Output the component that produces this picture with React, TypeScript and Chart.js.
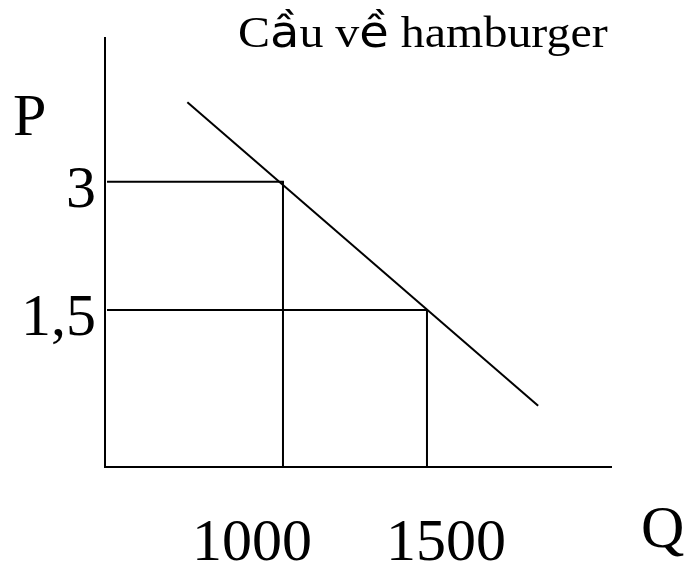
import React, { useEffect, useRef } from "react";
import { Chart, registerables } from "chart.js";

Chart.register(...registerables);

// ---- data ----
const titleText = "Cầu về hamburger";
const priceAxisName = "P";
const quantityAxisName = "Q";
const quantities = [1000, 1500];
const quantityLabels = ["1000", "1500"];
const prices = [3, 1.5];
const priceLabels = ["3", "1,5"];
const demandQ = [668, 1886];
const demandP = [3.93, 0.38];

// ---- scale ranges ----
const Q_MIN = 382;
const Q_MAX = 2139;
const P_MIN = -0.335;
const P_MAX = 4.68;

const SERIF = "'Liberation Serif', 'Times New Roman', serif";
const SANS = "'DejaVu Sans', sans-serif";

const textPlugin = {
  id: "econText",
  afterDraw(chart: any) {
    const ctx = chart.ctx;
    const xs = chart.scales.x;
    const ys = chart.scales.y;
    const area = chart.chartArea;
    ctx.save();
    ctx.fillStyle = "#000";
    ctx.textBaseline = "alphabetic";

    // y tick labels
    ctx.font = `60px ${SERIF}`;
    ctx.textAlign = "right";
    prices.forEach((p, i) => {
      ctx.fillText(priceLabels[i], area.left - 9, ys.getPixelForValue(p) + 25);
    });

    // x tick labels
    ctx.textAlign = "center";
    const xOffsets = [-31, 19];
    quantities.forEach((q, i) => {
      ctx.fillText(quantityLabels[i], xs.getPixelForValue(q) + xOffsets[i], area.bottom + 93);
    });

    // axis names
    ctx.textAlign = "left";
    ctx.fillText(priceAxisName, 13, 135);
    ctx.fillText(quantityAxisName, 641, 547);

    // title (accented glyphs drawn in a sans fallback face, as in the reference)
    const parts: [string, string][] = [];
    let buf = "";
    for (const ch of titleText) {
      if (ch === "ầ" || ch === "ề") {
        if (buf) parts.push([buf, SERIF]);
        buf = "";
        parts.push([ch, SANS]);
      } else buf += ch;
    }
    if (buf) parts.push([buf, SERIF]);
    ctx.save();
    ctx.translate(238, 47);
    ctx.scale(1.09, 1);
    let x = 0;
    for (const [t, f] of parts) {
      ctx.font = `44px ${f}`;
      ctx.fillText(t, x, 0);
      x += ctx.measureText(t).width;
    }
    ctx.restore();
    ctx.restore();
  },
};

export default function App() {
  const ref = useRef<HTMLCanvasElement>(null);
  useEffect(() => {
    if (!ref.current) return;
    const lineStyle = {
      borderColor: "#000",
      borderWidth: 2,
      pointRadius: 0,
      showLine: true,
      fill: false,
      tension: 0,
    };
    const guides = quantities.map((q, i) => ({
      ...lineStyle,
      data: [
        { x: Q_MIN + 7, y: prices[i] },
        { x: q, y: prices[i] },
        { x: q, y: P_MIN },
      ],
    }));
    const chart = new Chart(ref.current, {
      type: "scatter",
      data: {
        datasets: [
          {
            ...lineStyle,
            data: demandQ.map((q, i) => ({ x: q, y: demandP[i] })),
          },
          ...guides,
        ],
      },
      options: {
        animation: false,
        responsive: false,
        events: [],
        layout: { padding: { left: 105, right: 76, top: 38, bottom: 99 } },
        plugins: {
          legend: { display: false },
          tooltip: { enabled: false },
          title: { display: false },
        },
        scales: {
          x: {
            type: "linear",
            min: Q_MIN,
            max: Q_MAX,
            ticks: { display: false },
            grid: { display: false, drawTicks: false },
            border: { display: true, color: "#000", width: 2 },
          },
          y: {
            type: "linear",
            min: P_MIN,
            max: P_MAX,
            ticks: { display: false },
            grid: { display: false, drawTicks: false },
            border: { display: true, color: "#000", width: 2 },
          },
        },
      },
      plugins: [textPlugin],
    });
    return () => chart.destroy();
  }, []);
  return (
    <div style={{ position: "absolute", left: 0, top: 0, width: 687, height: 566, background: "#fff" }}>
      <canvas ref={ref} width={687} height={566} />
    </div>
  );
}
